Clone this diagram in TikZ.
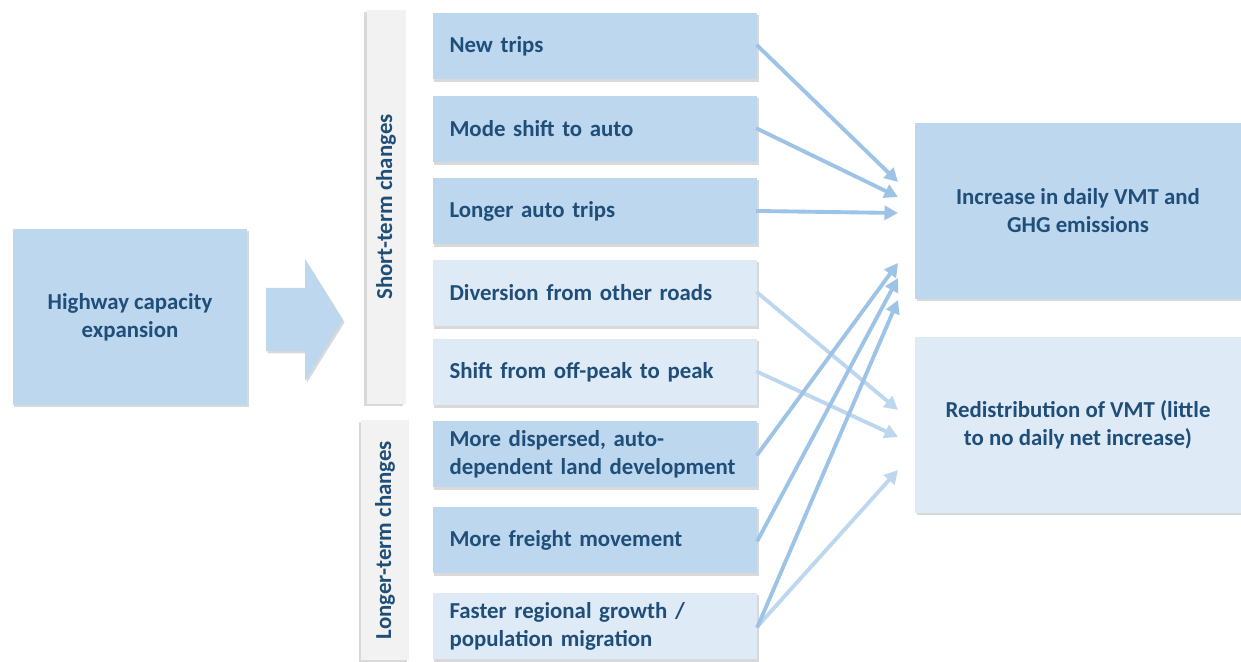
\documentclass[tikz,border=0pt]{standalone}
\usepackage{fontspec}
\setmainfont{Carlito}
\usetikzlibrary{positioning, arrows.meta, shadows}
\definecolor{boxDark}{RGB}{189,215,238}
\definecolor{boxLight}{RGB}{222,235,247}
\definecolor{txtBlue}{RGB}{31,78,121}
\definecolor{arrDark}{RGB}{157,195,230}
\definecolor{arrLight}{RGB}{189,215,238}
\definecolor{barGray}{RGB}{242,242,242}

\begin{document}
\begin{tikzpicture}[x=0.02cm, y=-0.02cm, >={Triangle[length=0.27cm, width=0.28cm]},
    shadowed/.style={drop shadow={shadow xshift=0.9pt, shadow yshift=-1.3pt, opacity=0.3}},
    txt/.style={font=\bfseries\fontsize{13}{16}\selectfont, text=txtBlue},
    change/.style={txt, shadowed, minimum width=6.5cm, minimum height=1.34cm,
        text width=5.82cm, inner xsep=0.34cm, align=left},
    result/.style={txt, shadowed, minimum width=6.52cm, minimum height=3.52cm, align=center},
    bar/.style={txt, fill=barGray, rotate=90, minimum height=0.78cm,
        drop shadow={shadow xshift=-1.3pt, shadow yshift=-1.2pt, opacity=0.3}},
    darr/.style={->, draw=arrDark, line width=2.2pt, shorten <=-1pt},
    larr/.style={->, draw=arrLight, line width=2.2pt, shorten <=-1pt}]

\useasboundingbox (0,0) rectangle (1241,662);

% Cause
\node[result, fill=boxDark, minimum width=4.7cm] (hwy) at (130,317)
    {Highway capacity\\expansion};
\fill[boxDark, shadowed] (266,288) -- (305,288) -- (305,259) -- (343,320)
    -- (305,381) -- (305,351) -- (266,351) -- cycle;

% Bandeaux
\node[bar, minimum width=7.88cm] (short) at (386,207) {Short-term changes};
\node[bar, minimum width=4.8cm, minimum height=0.96cm] (long) at (385,540) {Longer-term changes};

% Changements
\node[change, fill=boxDark]  (new)     at (595,46)  {New trips};
\node[change, fill=boxDark]  (mode)    at (595,129) {Mode shift to auto};
\node[change, fill=boxDark]  (longer)  at (595,211) {Longer auto trips};
\node[change, fill=boxLight] (divers)  at (595,293) {Diversion from other roads};
\node[change, fill=boxLight] (offpeak) at (595,372) {Shift from off-peak to peak};
\node[change, fill=boxDark]  (disp)    at (595,454) {More dispersed, auto-\\dependent land development};
\node[change, fill=boxDark]  (freight) at (595,540) {More freight movement};
\node[change, fill=boxLight] (faster)  at (595,626) {Faster regional growth /\\population migration};

% Effets
\node[result, fill=boxDark]  (inc)   at (1078,211) {Increase in daily VMT and\\GHG emissions};
\node[result, fill=boxLight] (redis) at (1078,425) {Redistribution of VMT (little\\to no daily net increase)};

% Pointes
\coordinate (i1) at (898,182);
\coordinate (i2) at (898,197);
\coordinate (i3) at (898,213);
\coordinate (i4) at (898,263);
\coordinate (i5) at (898,278);
\coordinate (i6) at (898,300);
\coordinate (r1) at (898,410);
\coordinate (r2) at (898,437);
\coordinate (r3) at (898,470);

% Fleches
\draw[larr] (divers.east) -- (r1);
\draw[larr] (offpeak.east) -- (r2);
\draw[larr] (faster.east) -- (r3);
\draw[darr] (new.east) -- (i1);
\draw[darr] (mode.east) -- (i2);
\draw[darr] (longer.east) -- (i3);
\draw[darr] (disp.east) -- (i4);
\draw[darr] (freight.east) -- (i5);
\draw[darr] (faster.east) -- (i6);

\end{tikzpicture}
\end{document}
